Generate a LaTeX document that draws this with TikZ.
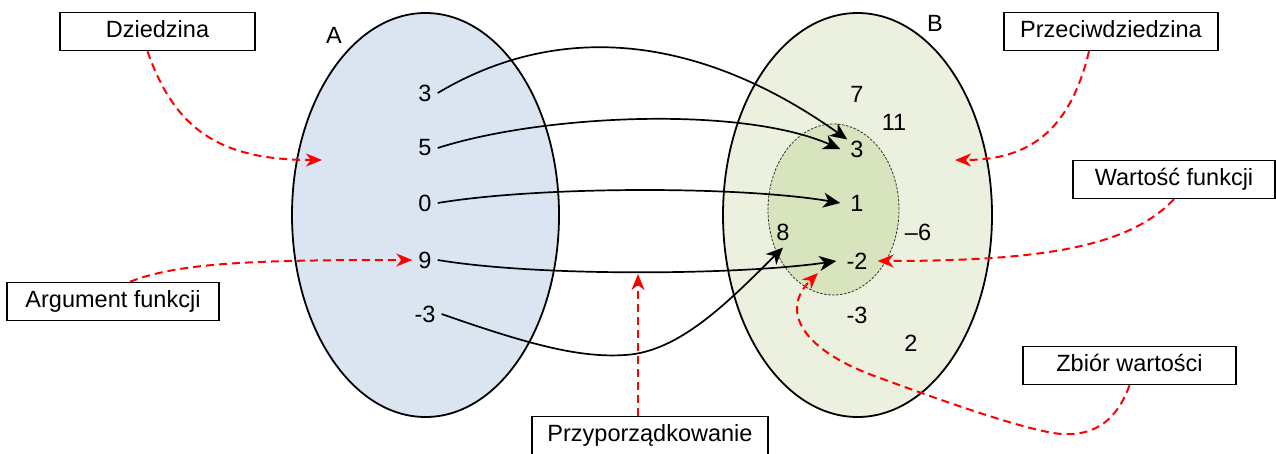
\documentclass[tikz,border=0pt]{standalone}
\usepackage{fontspec}
\setmainfont{Liberation Sans}
\usetikzlibrary{arrows.meta,shapes.geometric}
\definecolor{setA}{RGB}{219,229,241}
\definecolor{setB}{RGB}{235,241,222}
\definecolor{setV}{RGB}{215,228,189}
\begin{document}
\begin{tikzpicture}[x=1pt,y=-1pt,
  font=\fontsize{23.5}{28}\selectfont,
  setline/.style={draw=black, line width=1.8pt, inner sep=0pt},
  num/.style={inner xsep=6pt, inner ysep=3pt},
  rnum/.style={inner xsep=10pt, inner ysep=3pt},
  labelbox/.style={draw=black, line width=1.5pt, fill=white, inner sep=0pt, minimum height=38pt, text height=17pt, text depth=5pt},
  mapline/.style={line width=1.7pt, -{Stealth[length=17pt,width=15pt,inset=5pt]}},
  callout/.style={red, line width=2pt, dash pattern=on 8pt off 5pt, -{Stealth[length=16pt,width=13pt,inset=5pt]}}
]
\useasboundingbox (0,0) rectangle (1276,453);

% sets
\node[ellipse, setline, fill=setA, minimum width=267pt, minimum height=404pt] (ellA) at (425.5,215) {};
\node[ellipse, setline, fill=setB, minimum width=269pt, minimum height=404pt] (ellB) at (857.5,215) {};
\node[ellipse, draw=black!80, line width=0.8pt, dash pattern=on 2.5pt off 1.5pt, fill=setV, inner sep=0pt, minimum width=131pt, minimum height=171pt] (ellV) at (833.5,209.5) {};

\node (labA) at (334,35) {A};
\node (labB) at (935,23) {B};

% domain elements
\node[num] (l3) at (425,93) {3};
\node[num] (l5) at (425,148) {5};
\node[num] (l0) at (425,203) {0};
\node[num] (l9) at (425,260) {9};
\node[num] (lm3) at (425,314) {-3};

% codomain elements
\node[rnum] (r7) at (857,94) {7};
\node[rnum] (r11) at (894,122) {11};
\node[rnum] (r3) at (857,149) {3};
\node[rnum] (r1) at (857,203) {1};
\node[rnum] (r8) at (783,232) {8};
\node[rnum] (rm6) at (918,232) {–6};
\node[rnum] (rm2) at (857,261) {-2};
\node[rnum] (rm3) at (857,315) {-3};
\node[rnum] (r2) at (911,343) {2};

% label boxes
\node[labelbox, minimum width=195pt] (dz) at (157.5,31.5) {Dziedzina};
\node[labelbox, minimum width=214pt] (pd) at (1111,31.5) {Przeciwdziedzina};
\node[labelbox, minimum width=202pt] (wf) at (1174,179.5) {Wartość funkcji};
\node[labelbox, minimum width=212pt] (af) at (113,301.5) {Argument funkcji};
\node[labelbox, minimum width=236pt] (pr) at (650,435.5) {Przyporządkowanie};
\node[labelbox, minimum width=213pt] (zw) at (1129.5,365.5) {Zbiór wartości};

% mapping arrows
\draw[mapline] (l3.east) .. controls (560,20) and (700,35) .. ([xshift=7pt,yshift=-2pt]r3.north west);
\draw[mapline] (l5.east) .. controls (540,115) and (740,105) .. (r3.west);
\draw[mapline] (l0.east) .. controls (540,186) and (740,186) .. (r1.west);
\draw[mapline] (l9.east) .. controls (540,277) and (740,275) .. (rm2.west);
\draw[mapline] (lm3.east) .. controls (530,345) and (580,358) .. (625,355) .. controls (680,352) and (730,300) .. ([yshift=-4pt]r8.south);

% callouts
\coordinate (dzT) at (322,160);
\coordinate (pdT) at (955,160);
\coordinate (prT) at (638,274);
\coordinate (zwT) at (818,273);
\draw[callout] ([xshift=-10pt]dz.south) .. controls (175,130) and (220,160) .. (dzT);
\draw[callout] ([xshift=-22pt]pd.south) .. controls (1070,130) and (1030,160) .. (pdT);
\draw[callout] (wf.south) .. controls (1130,245) and (1050,261) .. (rm2.east);
\draw[callout] ([xshift=17pt]af.north) .. controls (180,262) and (260,260) .. (l9.west);
\draw[callout] ([xshift=-12pt]pr.north) -- (prT);
\draw[callout] (zw.south) .. controls (1117,420) and (1095,436) .. (1062,434) .. controls (1030,432) and (940,400) .. (880,378) .. controls (800,350) and (780,310) .. (zwT);
\end{tikzpicture}
\end{document}
